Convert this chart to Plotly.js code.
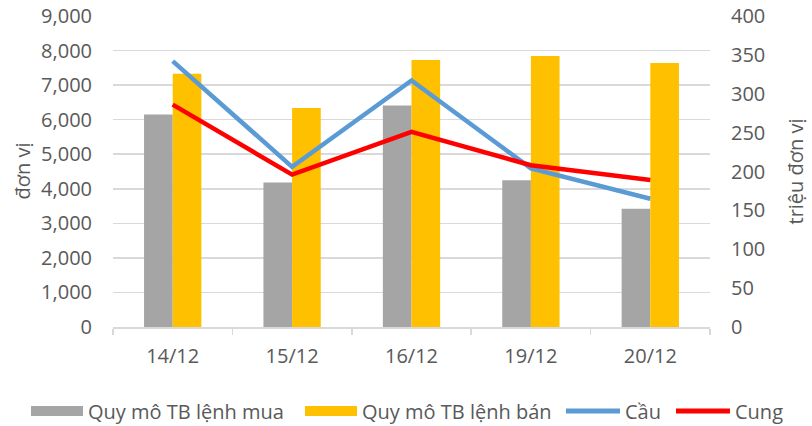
<!DOCTYPE html>
<html>
<head>
<meta charset="utf-8">
<script src="https://cdn.plot.ly/plotly-3.0.1.min.js"></script>
<style>html,body{margin:0;padding:0;background:#fff;}#chart{width:812px;height:426px;}</style>
</head>
<body>
<div id="chart"></div>
<script>
const categories = ["14/12", "15/12", "16/12", "19/12", "20/12"];
const buyVolume = [6150, 4180, 6410, 4250, 3420];
const sellVolume = [7330, 6340, 7730, 7840, 7640];
const demand = [342, 206, 317, 204, 165];
const supply = [286, 196, 251, 208, 189];
const leftTicks = [0, 1000, 2000, 3000, 4000, 5000, 6000, 7000, 8000, 9000];
const rightTicks = [0, 50, 100, 150, 200, 250, 300, 350, 400];

const grey = "#A5A5A5", yellow = "#FFC000", blue = "#5B9BD5", red = "#FF0000";
const txt = "#595959";
const font = {family: "Open Sans, Noto Sans, sans-serif", size: 20, color: txt};

const traces = [
  {type: "bar", x: categories, y: buyVolume, name: "Quy mô TB lệnh mua", marker: {color: grey}, showlegend: false},
  {type: "bar", x: categories, y: sellVolume, name: "Quy mô TB lệnh bán", marker: {color: yellow}, showlegend: false},
  {type: "scatter", mode: "lines", x: categories, y: demand, yaxis: "y2", name: "Cầu", line: {color: blue, width: 4.5}, showlegend: false},
  {type: "scatter", mode: "lines", x: categories, y: supply, yaxis: "y2", name: "Cung", line: {color: red, width: 4.5}, showlegend: false},
  {type: "scatter", mode: "lines", x: [null], y: [null], name: "Quy mô TB lệnh mua", line: {color: grey, width: 13}, legend: "legend"},
  {type: "scatter", mode: "lines", x: [null], y: [null], name: "Quy mô TB lệnh bán", line: {color: yellow, width: 13}, legend: "legend2"},
  {type: "scatter", mode: "lines", x: [null], y: [null], yaxis: "y2", name: "Cầu", line: {color: blue, width: 5}, legend: "legend3"},
  {type: "scatter", mode: "lines", x: [null], y: [null], yaxis: "y2", name: "Cung", line: {color: red, width: 5}, legend: "legend4"}
];

function leg(px, w) {
  return {orientation: "h", x: (px - 113) / 597, xanchor: "left", y: (327 - 411) / 311, yanchor: "middle",
          font: font, itemwidth: w, bgcolor: "rgba(0,0,0,0)", borderwidth: 0};
}

const layout = {
  width: 812, height: 426,
  margin: {l: 113, r: 102, t: 16, b: 99, autoexpand: false},
  paper_bgcolor: "#fff", plot_bgcolor: "#fff",
  font: font,
  barmode: "group", bargap: 0.52, bargroupgap: 0,
  showlegend: true,
  legend: leg(26, 52),
  legend2: leg(300, 52),
  legend3: leg(561, 54),
  legend4: leg(671, 54),
  xaxis: {type: "category", categoryarray: categories, showgrid: false, showline: true, linecolor: "#D9D9D9", linewidth: 1.5,
          ticks: "outside", tickson: "boundaries", ticklen: 6, tickcolor: "#D9D9D9", tickwidth: 1.5,
          ticklabelstandoff: 10, tickfont: font, fixedrange: true},
  yaxis: {range: [0, 9000], tickvals: leftTicks, ticktext: leftTicks.map(v => v.toLocaleString("en-US")),
          showgrid: true, gridcolor: "#D9D9D9", gridwidth: 1.5, zeroline: false, showline: false,
          ticks: "", ticklabelstandoff: 20, tickfont: font},
  yaxis2: {range: [0, 400], tickvals: rightTicks, overlaying: "y", side: "right", showgrid: false, zeroline: false,
           showline: false, ticks: "", ticklabelstandoff: 20, tickfont: font},
  annotations: [
    {text: "đơn vị", xref: "paper", yref: "paper", x: (22 - 113) / 597, y: 0.5, xanchor: "center", yanchor: "middle",
     textangle: -90, showarrow: false, font: font},
    {text: "triệu đơn vị", xref: "paper", yref: "paper", x: (795 - 113) / 597, y: 0.5, xanchor: "center", yanchor: "middle",
     textangle: -90, showarrow: false, font: font}
  ]
};

Plotly.newPlot("chart", traces, layout, {displayModeBar: false, staticPlot: true});
</script>
</body>
</html>
